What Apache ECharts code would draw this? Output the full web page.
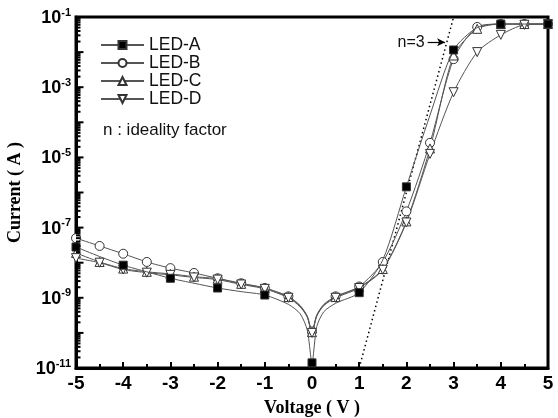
<!DOCTYPE html>
<html lang="en">
<head>
    <meta charset="UTF-8">
    <title>I-V curves</title>
    <script src="https://cdn.jsdelivr.net/npm/echarts@6/dist/echarts.min.js"></script>
    <style>
        html, body { margin: 0; padding: 0; background: #fff; }
        #chart { width: 558px; height: 418px; }
    </style>
</head>
<body>
    <div id="chart"></div>
    <script>
        // voltage points (V); extra points near 0 shape the dip
        const volts = [-5, -4.5, -4, -3.5, -3, -2.5, -2, -1.5, -1, -0.5, -0.25, -0.1, 0, 0.1, 0.25, 0.5, 1, 1.5, 2, 2.5, 3, 3.5, 4, 4.5, 5];
        // current (A)
        const ledA = [2.8e-8, 1.5e-8, 8.5e-9, 5.5e-9, 3.6e-9, 2.6e-9, 1.9e-9, 1.5e-9, 1.2e-9, 6.5e-10, 3.5e-10, 1.2e-10, 1.4e-11, 1.5e-10, 4e-10, 7e-10, 1.4e-9, 1.2e-8, 1.45e-6, 1.6e-4, 1.15e-2, 5e-2, 6.3e-2, 6.3e-2, 6.3e-2];
        const ledB = [5e-8, 3e-8, 1.8e-8, 1.05e-8, 7e-9, 5.1e-9, 3.6e-9, 2.6e-9, 1.9e-9, 1.1e-9, 6e-10, 3e-10, 1.1e-10, 3.2e-10, 6.5e-10, 1.1e-9, 2.1e-9, 1.05e-8, 2.9e-7, 2.6e-5, 6.3e-3, 5.2e-2, 6.3e-2, 6.3e-2, 6.3e-2];
        const ledC = [1.9e-8, 1.05e-8, 6.8e-9, 5.5e-9, 4.8e-9, 4e-9, 3.5e-9, 2.5e-9, 1.9e-9, 1.05e-9, 5.8e-10, 2.9e-10, 1.05e-10, 3.1e-10, 6.2e-10, 1.05e-9, 2e-9, 6.6e-9, 1.5e-7, 1.8e-5, 8e-3, 4.6e-2, 6.3e-2, 6.3e-2, 6.3e-2];
        const ledD = [1.35e-8, 1e-8, 6.4e-9, 5.2e-9, 4.5e-9, 3.8e-9, 3.3e-9, 2.4e-9, 1.8e-9, 1e-9, 5.5e-10, 2.8e-10, 1e-10, 3e-10, 6e-10, 1e-9, 1.9e-9, 6.3e-9, 1.4e-7, 1.26e-5, 7.2e-4, 1e-2, 3.1e-2, 6e-2, 6.3e-2];
        // n = 3 ideality reference line
        const idealV = [1, 3];
        const idealI = [1e-11, 1e-1];

        const yLabelVals = [1e-11, 1e-9, 1e-7, 1e-5, 1e-3, 1e-1];

        // y tick marks: [value, length] - majors every decade, minors 2..9
        const yTicks = [];
        for (let e = -11; e <= -1; e++) {
            const base = Math.pow(10, e);
            yTicks.push([base, 6]);
            if (e < -1) {
                for (let m = 2; m <= 9; m++) yTicks.push([m * base, 3]);
            }
        }

        const lineColor = '#555';

        function buildData(vals, step) {
            return volts.map((v, i) => {
                const marked = Math.abs(v / step - Math.round(v / step)) < 1e-6;
                const item = { value: [v, vals[i]] };
                if (!marked) item.symbol = 'none';
                return item;
            });
        }

        function ledSeries(name, vals, step, symbol, size, fill) {
            return {
                name: name,
                type: 'line',
                smooth: 0.25,
                data: buildData(vals, step),
                symbol: symbol,
                symbolSize: size,
                showAllSymbol: true,
                lineStyle: { color: lineColor, width: 1 },
                itemStyle: { color: fill, borderColor: '#333', borderWidth: 1 },
                z: name === 'LED-A' ? 5 : 3
            };
        }

        const chart = echarts.init(document.getElementById('chart'));

        const noteText = {
            type: 'text',
            id: 'note',
            left: 103, top: 122,
            style: { text: 'n : ideality factor', font: '17px "Liberation Sans", Arial', fill: '#111' }
        };

        const option = {
            animation: false,
            backgroundColor: '#fff',
            grid: {
                left: 76, right: 10, top: 17, bottom: 50,
                outerBoundsMode: 'none',
                containLabel: false,
                show: true, borderColor: '#000', borderWidth: 3
            },
            legend: {
                data: ['LED-A', 'LED-B', 'LED-C', 'LED-D'],
                orient: 'vertical',
                left: 100, top: 36,
                padding: 0,
                itemWidth: 43, itemHeight: 10, itemGap: 0,
                textStyle: { fontFamily: 'Liberation Sans, Arial', fontSize: 17.5, lineHeight: 17.5, color: '#111' }
            },
            graphic: [noteText],
            xAxis: {
                type: 'value',
                min: -5, max: 5, interval: 1,
                name: 'Voltage ( V )',
                nameLocation: 'middle',
                nameGap: 31,
                nameTextStyle: { fontFamily: 'Liberation Serif, Times New Roman', fontWeight: 'bold', fontSize: 18, color: '#000', verticalAlign: 'top' },
                axisLine: { onZero: false, lineStyle: { color: '#000', width: 3 } },
                axisTick: { inside: true, length: 6, lineStyle: { color: '#000', width: 2 } },
                minorTick: { show: true, splitNumber: 2, length: 4, lineStyle: { color: '#000', width: 2 } },
                axisLabel: { fontFamily: 'Liberation Sans, Arial', fontWeight: 'bold', fontSize: 19, color: '#000', margin: 6 },
                splitLine: { show: false }
            },
            yAxis: {
                type: 'log',
                logBase: 10,
                min: 1e-11, max: 1e-1,
                name: 'Current ( A )',
                nameLocation: 'middle',
                nameGap: 39,
                nameTextStyle: { fontFamily: 'Liberation Serif, Times New Roman', fontWeight: 'bold', fontSize: 18, color: '#000' },
                axisLine: { show: true, onZero: false, lineStyle: { color: '#000', width: 3 } },
                axisTick: { show: false },
                axisLabel: {
                    customValues: yLabelVals,
                    margin: 5,
                    formatter: v => {
                        const e = Math.round(Math.log10(v));
                        return '{b|10}{s|' + e + '}';
                    },
                    rich: {
                        b: { fontFamily: 'Liberation Sans, Arial', fontWeight: 'bold', fontSize: 18, color: '#000', verticalAlign: 'bottom' },
                        s: { fontFamily: 'Liberation Sans, Arial', fontWeight: 'bold', fontSize: 11, color: '#000', verticalAlign: 'top', padding: [0, 0, 9, 0] }
                    }
                },
                splitLine: { show: false }
            },
            series: [
                ledSeries('LED-A', ledA, 1, 'rect', 8, '#000'),
                ledSeries('LED-B', ledB, 0.5, 'circle', 9, '#fff'),
                ledSeries('LED-C', ledC, 0.5, 'triangle', 9, '#fff'),
                ledSeries('LED-D', ledD, 0.5, 'path://M0,0 L10,0 L5,9 Z', 9, '#fff'),
                {
                    name: 'n=3',
                    type: 'line',
                    data: idealV.map((v, i) => [v, idealI[i]]),
                    symbol: 'none',
                    lineStyle: { color: '#000', width: 1.5, type: [1.5, 3] },
                    markLine: {
                        silent: true,
                        symbol: ['none', 'arrow'],
                        symbolSize: [6, 8],
                        lineStyle: { color: '#000', width: 1.2, type: 'solid' },
                        label: {
                            show: true, position: 'start', distance: 3,
                            formatter: 'n=3',
                            fontFamily: 'Liberation Sans, Arial', fontSize: 16, color: '#111'
                        },
                        data: [[{ coord: [2.45, 0.019] }, { coord: [2.82, 0.019] }]]
                    },
                    z: 2
                }
            ]
        };

        chart.setOption(option);

        // inward tick marks on the log current axis, placed through the axis scales
        const tickGraphics = yTicks.map((t, i) => {
            const p = chart.convertToPixel({ xAxisIndex: 0, yAxisIndex: 0 }, [-5, t[0]]);
            return {
                type: 'line',
                id: 'ytick' + i,
                silent: true,
                z: 100,
                shape: { x1: p[0], y1: p[1], x2: p[0] + 1.5 + t[1], y2: p[1] },
                style: { stroke: '#000', lineWidth: 2 }
            };
        });
        chart.setOption({ graphic: [noteText].concat(tickGraphics) });
    </script>
</body>
</html>
